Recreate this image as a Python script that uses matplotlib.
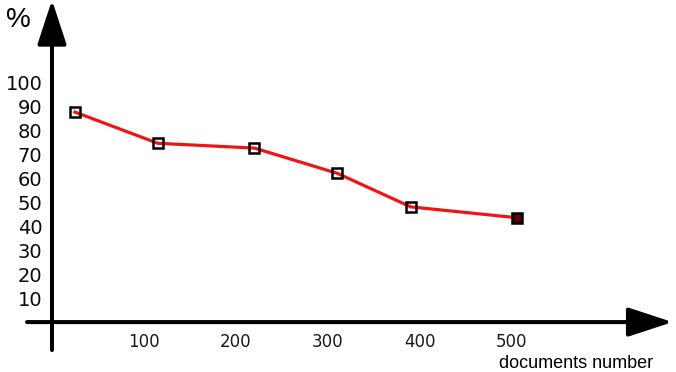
import matplotlib
matplotlib.use("Agg")
import matplotlib.pyplot as plt

# ===== Data =====
docs = [25, 115, 220, 310, 390, 505]
percent = [87.5, 74.5, 72.5, 62, 48, 43.5]
x_ticks = [100, 200, 300, 400, 500]
y_ticks = [10, 20, 30, 40, 50, 60, 70, 80, 90, 100]

# ===== Figure =====
fig = plt.figure(figsize=(6.76, 3.72), dpi=100)
ax = fig.add_axes([0, 0, 1, 1])
ax.set_xlim(-56.5, 678.3)
ax.set_ylim(-20.8, 134.2)

# spines only carry the tick labels, the visible axes are arrows
for side in ["top", "right"]:
    ax.spines[side].set_visible(False)
ax.spines["left"].set_position(("data", 0))
ax.spines["bottom"].set_position(("data", 0))
ax.spines["left"].set_color("none")
ax.spines["bottom"].set_color("none")

ax.set_xticks(x_ticks)
ax.set_xticklabels([str(v) for v in x_ticks])
ax.set_yticks(y_ticks)
ax.set_yticklabels([str(v) for v in y_ticks])
ax.tick_params(axis="y", length=0, pad=7, labelsize=14, labelcolor="#0a0a0a")
ax.tick_params(axis="x", length=0, pad=8, labelsize=12, labelcolor="#1a1a1a")

# axis arrows
arrow = dict(arrowstyle="-|>,head_length=0.55,head_width=0.18",
             mutation_scale=50, lw=2.9, color="black",
             shrinkA=0, shrinkB=0)
ax.annotate("", xy=(0, 1.0), xytext=(0, 0.059),
            xycoords=("data", "axes fraction"), arrowprops=arrow)
ax.annotate("", xy=(0.995, 0), xytext=(0.04, 0),
            xycoords=("axes fraction", "data"), arrowprops=arrow)

# data line
ax.plot(docs, percent, color="#f01414", lw=2.3, zorder=3)
ax.plot(docs[:-1], percent[:-1], ls="none", marker="s", ms=6.5,
        mfc="none", mec="black", mew=1.8, zorder=4)
ax.plot(docs[-1:], percent[-1:], ls="none", marker="s", ms=6.5,
        mfc="#5a0000", mec="black", mew=1.8, zorder=4)

# labels
ax.text(-36, 126, "%", fontsize=20, fontfamily="Liberation Sans",
        ha="center", va="center")
ax.text(486, -13.8, "documents number", fontsize=13,
        fontfamily="Liberation Sans", ha="left", va="top")

fig.savefig("out.png", dpi=100)
